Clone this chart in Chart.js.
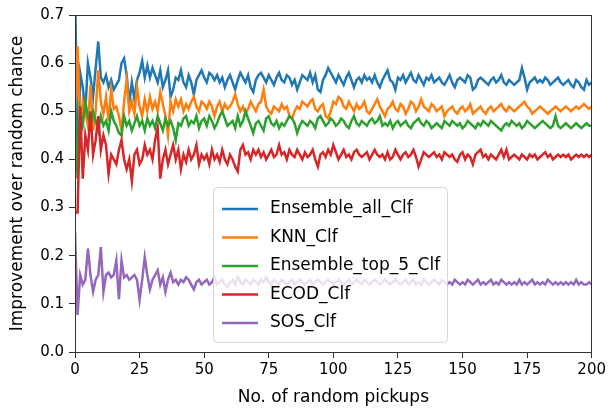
<!DOCTYPE html>
<html>
<head>
<meta charset="utf-8">
<script src="https://cdn.jsdelivr.net/npm/chart.js@4"></script>
<style>
  html, body { margin: 0; padding: 0; background: #fff; }
  #grafico { display: block; }
</style>
</head>
<body>
<canvas id="grafico" width="609" height="412"></canvas>
<script>
// valores (x = 0..200)
const seriesNames = ["Ensemble_all_Clf", "KNN_Clf", "Ensemble_top_5_Clf", "ECOD_Clf", "SOS_Clf"];
const seriesColors = ["#1f77b4", "#ff7f0e", "#2ca02c", "#d62728", "#9467bd"];
const xTicks = [0, 25, 50, 75, 100, 125, 150, 175, 200];
const yTicks = [0.0, 0.1, 0.2, 0.3, 0.4, 0.5, 0.6, 0.7];

const ensembleAll = [
  0.78,0.37,0.58,0.55,0.50,0.60,0.57,0.53,0.59,0.645,
  0.57,0.56,0.575,0.55,0.565,0.545,0.555,0.565,0.60,0.61,
  0.575,0.517,0.56,0.525,0.565,0.58,0.605,0.57,0.595,0.57,
  0.59,0.575,0.56,0.585,0.55,0.565,0.585,0.53,0.545,0.57,
  0.565,0.585,0.56,0.55,0.575,0.56,0.535,0.565,0.575,0.585,
  0.57,0.56,0.58,0.575,0.565,0.575,0.56,0.57,0.55,0.565,
  0.575,0.56,0.545,0.565,0.58,0.57,0.56,0.575,0.55,0.54,
  0.565,0.575,0.58,0.57,0.56,0.575,0.565,0.555,0.57,0.58,
  0.565,0.56,0.575,0.57,0.555,0.565,0.545,0.56,0.575,0.57,
  0.565,0.58,0.56,0.575,0.545,0.54,0.565,0.575,0.59,0.58,
  0.57,0.56,0.575,0.565,0.555,0.57,0.58,0.565,0.55,0.565,
  0.57,0.56,0.575,0.565,0.57,0.56,0.575,0.56,0.55,0.565,
  0.575,0.585,0.565,0.56,0.545,0.57,0.565,0.575,0.56,0.57,
  0.58,0.565,0.56,0.575,0.565,0.555,0.57,0.565,0.575,0.56,
  0.565,0.57,0.56,0.555,0.565,0.575,0.56,0.55,0.565,0.57,
  0.565,0.56,0.575,0.57,0.545,0.55,0.565,0.57,0.565,0.56,
  0.555,0.565,0.57,0.56,0.565,0.575,0.56,0.555,0.565,0.56,
  0.555,0.56,0.565,0.59,0.57,0.545,0.56,0.565,0.57,0.56,
  0.565,0.56,0.57,0.565,0.555,0.56,0.565,0.57,0.56,0.555,
  0.56,0.565,0.555,0.55,0.565,0.56,0.55,0.545,0.565,0.555,
  0.56
];

const knn = [
  0.49,0.635,0.45,0.52,0.50,0.47,0.555,0.46,0.50,0.585,
  0.52,0.495,0.53,0.48,0.545,0.505,0.51,0.49,0.46,0.52,
  0.565,0.50,0.52,0.495,0.55,0.51,0.49,0.525,0.50,0.53,
  0.505,0.52,0.50,0.54,0.515,0.49,0.45,0.52,0.50,0.525,
  0.51,0.525,0.50,0.515,0.505,0.52,0.53,0.51,0.50,0.52,
  0.515,0.505,0.52,0.51,0.49,0.51,0.52,0.50,0.515,0.505,
  0.51,0.52,0.535,0.515,0.50,0.51,0.495,0.505,0.52,0.51,
  0.50,0.515,0.52,0.545,0.51,0.50,0.495,0.51,0.505,0.50,
  0.515,0.505,0.51,0.49,0.485,0.50,0.51,0.505,0.52,0.515,
  0.51,0.52,0.525,0.505,0.50,0.51,0.515,0.49,0.485,0.50,
  0.52,0.515,0.53,0.525,0.51,0.505,0.52,0.51,0.50,0.515,
  0.505,0.51,0.52,0.50,0.495,0.505,0.515,0.525,0.51,0.50,
  0.49,0.505,0.51,0.52,0.505,0.50,0.515,0.51,0.495,0.505,
  0.52,0.515,0.50,0.51,0.525,0.51,0.505,0.50,0.515,0.51,
  0.50,0.505,0.51,0.49,0.50,0.505,0.51,0.50,0.495,0.505,
  0.51,0.50,0.505,0.515,0.495,0.50,0.505,0.51,0.50,0.495,
  0.505,0.51,0.50,0.505,0.51,0.515,0.505,0.50,0.51,0.505,
  0.50,0.505,0.51,0.515,0.52,0.51,0.505,0.495,0.50,0.505,
  0.51,0.505,0.50,0.495,0.50,0.505,0.51,0.505,0.50,0.505,
  0.51,0.505,0.50,0.505,0.51,0.505,0.51,0.515,0.51,0.505,
  0.51
];

const ensembleTop5 = [
  0.52,0.36,0.50,0.47,0.52,0.49,0.47,0.50,0.48,0.46,
  0.49,0.47,0.48,0.46,0.50,0.48,0.47,0.455,0.45,0.49,
  0.47,0.48,0.46,0.475,0.49,0.47,0.48,0.46,0.485,0.47,
  0.48,0.465,0.49,0.475,0.46,0.485,0.47,0.48,0.465,0.44,
  0.475,0.47,0.485,0.49,0.47,0.48,0.475,0.49,0.465,0.48,
  0.485,0.47,0.49,0.48,0.465,0.475,0.49,0.50,0.485,0.47,
  0.475,0.48,0.465,0.49,0.47,0.48,0.50,0.485,0.47,0.455,
  0.475,0.48,0.47,0.46,0.485,0.49,0.475,0.47,0.48,0.465,
  0.475,0.47,0.48,0.49,0.485,0.475,0.455,0.47,0.48,0.475,
  0.47,0.48,0.475,0.465,0.485,0.49,0.48,0.47,0.475,0.485,
  0.48,0.47,0.475,0.485,0.48,0.47,0.465,0.48,0.49,0.475,
  0.47,0.48,0.475,0.47,0.48,0.485,0.475,0.48,0.49,0.47,
  0.475,0.47,0.48,0.465,0.475,0.48,0.47,0.475,0.48,0.47,
  0.465,0.475,0.48,0.485,0.475,0.47,0.48,0.475,0.465,0.47,
  0.475,0.47,0.465,0.48,0.475,0.47,0.48,0.475,0.47,0.475,
  0.465,0.47,0.48,0.475,0.47,0.465,0.475,0.47,0.48,0.475,
  0.47,0.48,0.475,0.47,0.465,0.46,0.47,0.475,0.47,0.48,
  0.475,0.47,0.475,0.465,0.47,0.48,0.475,0.47,0.465,0.47,
  0.475,0.48,0.475,0.47,0.465,0.47,0.49,0.47,0.465,0.47,
  0.475,0.47,0.465,0.47,0.475,0.47,0.465,0.47,0.475,0.47,
  0.47
];

const ecod = [
  0.29,0.29,0.51,0.36,0.45,0.42,0.50,0.41,0.44,0.49,
  0.42,0.45,0.43,0.37,0.41,0.40,0.39,0.42,0.44,0.40,
  0.38,0.40,0.355,0.41,0.42,0.39,0.40,0.43,0.41,0.42,
  0.40,0.44,0.465,0.36,0.40,0.42,0.39,0.41,0.43,0.40,
  0.42,0.38,0.41,0.395,0.42,0.40,0.41,0.43,0.39,0.41,
  0.40,0.41,0.39,0.42,0.40,0.41,0.395,0.42,0.40,0.39,
  0.41,0.40,0.385,0.375,0.42,0.43,0.41,0.415,0.40,0.42,
  0.41,0.42,0.405,0.415,0.40,0.41,0.42,0.405,0.41,0.43,
  0.41,0.415,0.40,0.42,0.41,0.405,0.42,0.41,0.40,0.415,
  0.405,0.41,0.42,0.40,0.385,0.41,0.415,0.405,0.42,0.41,
  0.43,0.415,0.40,0.41,0.42,0.405,0.41,0.40,0.415,0.42,
  0.41,0.405,0.41,0.415,0.40,0.41,0.42,0.41,0.405,0.41,
  0.40,0.415,0.40,0.405,0.42,0.41,0.40,0.41,0.415,0.405,
  0.41,0.42,0.405,0.385,0.40,0.415,0.41,0.405,0.41,0.415,
  0.405,0.41,0.40,0.415,0.41,0.405,0.41,0.40,0.395,0.41,
  0.415,0.40,0.41,0.405,0.39,0.41,0.415,0.42,0.405,0.41,
  0.40,0.41,0.405,0.40,0.41,0.42,0.405,0.42,0.40,0.405,
  0.41,0.405,0.40,0.41,0.405,0.40,0.41,0.405,0.41,0.40,
  0.405,0.41,0.415,0.405,0.41,0.40,0.405,0.41,0.405,0.41,
  0.405,0.41,0.40,0.405,0.41,0.405,0.41,0.405,0.41,0.405,
  0.41
];

const sos = [
  0.25,0.077,0.16,0.14,0.15,0.215,0.16,0.125,0.15,0.16,
  0.218,0.125,0.16,0.165,0.155,0.16,0.19,0.11,0.19,0.155,
  0.16,0.15,0.155,0.16,0.15,0.108,0.15,0.197,0.16,0.13,
  0.15,0.16,0.17,0.14,0.155,0.125,0.15,0.165,0.145,0.15,
  0.14,0.15,0.145,0.155,0.15,0.14,0.13,0.145,0.15,0.14,
  0.145,0.15,0.14,0.145,0.155,0.14,0.145,0.15,0.14,0.135,
  0.145,0.15,0.14,0.155,0.145,0.14,0.15,0.145,0.14,0.15,
  0.145,0.14,0.15,0.145,0.155,0.145,0.14,0.15,0.145,0.14,
  0.15,0.145,0.14,0.145,0.15,0.14,0.145,0.15,0.145,0.14,
  0.145,0.15,0.14,0.145,0.15,0.145,0.14,0.145,0.15,0.145,
  0.14,0.145,0.15,0.145,0.14,0.145,0.15,0.14,0.145,0.15,
  0.145,0.14,0.15,0.145,0.14,0.145,0.15,0.145,0.14,0.145,
  0.15,0.145,0.14,0.145,0.15,0.145,0.14,0.145,0.15,0.14,
  0.145,0.15,0.14,0.145,0.14,0.15,0.145,0.14,0.145,0.15,
  0.145,0.14,0.15,0.145,0.14,0.145,0.14,0.15,0.145,0.14,
  0.145,0.14,0.15,0.145,0.14,0.145,0.15,0.14,0.145,0.14,
  0.145,0.15,0.14,0.145,0.14,0.15,0.145,0.14,0.145,0.14,
  0.145,0.14,0.15,0.14,0.145,0.14,0.145,0.15,0.14,0.145,
  0.14,0.145,0.14,0.15,0.145,0.14,0.145,0.14,0.145,0.14,
  0.145,0.14,0.145,0.14,0.15,0.14,0.145,0.14,0.14,0.145,
  0.14
];

const allSeries = [ensembleAll, knn, ensembleTop5, ecod, sos];

Chart.defaults.font.family = "'DejaVu Sans', sans-serif";
Chart.defaults.font.size = 15;
Chart.defaults.color = "#000";

// moldura completa + legenda dentro da área do gráfico (estilo matplotlib)
const molduraELegenda = {
  id: "molduraELegenda",
  afterDraw(chart) {
    const ctx = chart.ctx;
    const a = chart.chartArea;
    ctx.save();
    ctx.strokeStyle = "#333";
    ctx.lineWidth = 1;
    ctx.strokeRect(Math.round(a.left) + 0.5, Math.round(a.top) + 0.5,
                   Math.round(a.right - a.left) - 1, Math.round(a.bottom - a.top));

    // caixa da legenda
    const lx = a.left + 138, ly = a.top + 172, lw = 234, lh = 155;
    ctx.beginPath();
    ctx.roundRect(lx + 0.5, ly + 0.5, lw, lh, 4);
    ctx.fillStyle = "rgba(255,255,255,0.8)";
    ctx.fill();
    ctx.strokeStyle = "rgba(204,204,204,0.8)";
    ctx.stroke();

    ctx.font = "17px 'DejaVu Sans', sans-serif";
    ctx.textBaseline = "middle";
    ctx.textAlign = "left";
    seriesNames.forEach(function (nome, i) {
      const y = ly + 22 + i * 28.5;
      ctx.strokeStyle = seriesColors[i];
      ctx.lineWidth = 2.5;
      ctx.beginPath();
      ctx.moveTo(lx + 9, y);
      ctx.lineTo(lx + 45, y);
      ctx.stroke();
      ctx.fillStyle = "#000";
      ctx.fillText(nome, lx + 57, y);
    });
    ctx.restore();
  }
};

const ctx = document.getElementById("grafico").getContext("2d");

new Chart(ctx, {
  type: "line",
  data: {
    datasets: allSeries.map(function (valores, i) {
      return {
        label: seriesNames[i],
        data: valores.map(function (v, x) { return { x: x, y: v }; }),
        borderColor: seriesColors[i],
        backgroundColor: seriesColors[i],
        borderWidth: 2.5,
        pointRadius: 0,
        tension: 0,
        order: allSeries.length - i
      };
    })
  },
  options: {
    responsive: false,
    animation: false,
    events: [],
    layout: { padding: { top: 15, right: 17, left: 0, bottom: 0 } },
    plugins: {
      legend: { display: false },
      tooltip: { enabled: false }
    },
    scales: {
      x: {
        type: "linear",
        min: xTicks[0],
        max: xTicks[xTicks.length - 1],
        afterBuildTicks: function (scale) {
          scale.ticks = xTicks.map(function (v) { return { value: v }; });
        },
        afterFit: function (scale) { scale.height = 60; },
        ticks: { padding: 3, maxRotation: 0, color: "#000" },
        grid: { drawOnChartArea: false, tickLength: 6, tickColor: "#333" },
        border: { display: true, color: "#333", width: 1 },
        title: {
          display: true,
          text: "No. of random pickups",
          color: "#000",
          font: { size: 17 },
          padding: { top: 4, bottom: 4 }
        }
      },
      y: {
        min: yTicks[0],
        max: yTicks[yTicks.length - 1],
        afterBuildTicks: function (scale) {
          scale.ticks = yTicks.map(function (v) { return { value: v }; });
        },
        afterFit: function (scale) { scale.width = 75; },
        ticks: {
          padding: 5,
          color: "#000",
          callback: function (v) { return Number(v).toFixed(1); }
        },
        grid: { drawOnChartArea: false, tickLength: 6, tickColor: "#333" },
        border: { display: true, color: "#333", width: 1 },
        title: {
          display: true,
          text: "Improvement over random chance",
          color: "#000",
          font: { size: 17 },
          padding: { top: 7, bottom: 4 }
        }
      }
    }
  },
  plugins: [molduraELegenda]
});
</script>
</body>
</html>
